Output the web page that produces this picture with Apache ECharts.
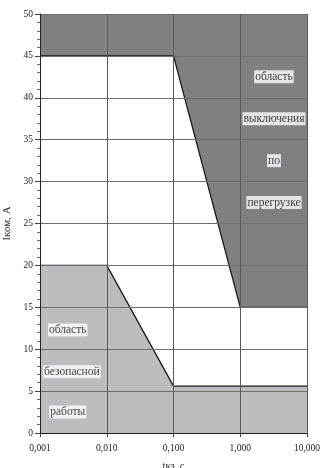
<!DOCTYPE html>
<html>
<head>
<meta charset="utf-8">
<script src="https://cdn.jsdelivr.net/npm/echarts@6/dist/echarts.min.js"></script>
<style>html,body{margin:0;padding:0;background:#fff}#c{width:320px;height:468px}</style>
</head>
<body>
<div id="c"></div>
<script>
// Boundary of the overload trip region (filled up to top of axis)
var tripX = [0.001, 0.1, 1, 10];
var tripY = [45, 45, 15, 15];
// Boundary of the safe operation region (filled down to zero)
var safeX = [0.001, 0.01, 0.1, 10];
var safeY = [20, 20, 5.6, 5.6];
// Tick labels
var xTickValues = [0.001, 0.01, 0.1, 1, 10];
var xTickLabels = ['0,001', '0,010', '0,100', '1,000', '10,000'];
// Region annotations
var tripText = ['область', 'выключения', 'по', 'перегрузке'];
var tripTextX = [3.2, 3.2, 3.2, 3.2];
var tripTextY = [42.5, 37.5, 32.5, 27.5];
var safeText = ['область', 'безопасной', 'работы'];
var safeTextX = [0.0026, 0.003, 0.0026];
var safeTextY = [12.3, 7.3, 2.5];

function pairs(xs, ys) { return xs.map(function (x, i) { return [x, ys[i]]; }); }
function textPts(xs, ys, ts) { return xs.map(function (x, i) { return { value: [x, ys[i]], name: ts[i] }; }); }

var FONT = '"Liberation Serif", "DejaVu Serif", serif';
var chart = echarts.init(document.getElementById('c'), null, { renderer: 'canvas' });
chart.setOption({
  animation: false,
  backgroundColor: '#ffffff',
  textStyle: { fontFamily: FONT },
  grid: { left: 40, right: 13, top: 14, bottom: 35, containLabel: false, outerBoundsMode: 'none' },
  xAxis: {
    type: 'log', logBase: 10, min: 0.001, max: 10, z: 5,
    name: 'tкз, с', nameLocation: 'middle', nameGap: 28,
    nameTextStyle: { fontFamily: FONT, fontSize: 10.5, color: '#333' },
    axisLine: { show: true, lineStyle: { color: '#222', width: 1 } },
    axisTick: { show: true, length: 4, inside: false, lineStyle: { color: '#444' } },
    axisLabel: {
      fontFamily: FONT, fontSize: 9.5, color: '#222', margin: 10,
      formatter: function (v) {
        for (var i = 0; i < xTickValues.length; i++) {
          if (Math.abs(Math.log10(v) - Math.log10(xTickValues[i])) < 1e-6) return xTickLabels[i];
        }
        return '';
      }
    },
    splitLine: { show: true, lineStyle: { color: '#5a5a5a', width: 1 } },
    minorTick: { show: false }
  },
  yAxis: {
    type: 'value', min: 0, max: 50, interval: 5, z: 5,
    name: 'Iком, А', nameLocation: 'middle', nameGap: 24, nameRotate: 90,
    nameTextStyle: { fontFamily: FONT, fontSize: 11, color: '#333' },
    axisLine: { show: true, lineStyle: { color: '#222', width: 1 } },
    axisTick: { show: true, length: 5, inside: false, lineStyle: { color: '#444' } },
    minorTick: { show: true, splitNumber: 5, length: 3, lineStyle: { color: '#666' } },
    axisLabel: { fontFamily: FONT, fontSize: 9.5, color: '#222', margin: 7 },
    splitLine: { show: true, lineStyle: { color: '#6e6e6e', width: 1 } }
  },
  series: [
    {
      type: 'line', data: pairs(tripX, tripY), symbol: 'none', z: 2,
      lineStyle: { color: '#1a1a1a', width: 1.3 },
      areaStyle: { origin: 'end', color: '#7f7f84', opacity: 1 }
    },
    {
      type: 'line', data: pairs(safeX, safeY), symbol: 'none', z: 2,
      lineStyle: { color: '#1a1a1a', width: 1.3 },
      areaStyle: { origin: 'start', color: '#bcbcc0', opacity: 1 }
    },
    {
      type: 'scatter', symbolSize: 0, z: 10,
      data: textPts(tripTextX, tripTextY, tripText).concat(textPts(safeTextX, safeTextY, safeText)),
      label: {
        show: true, position: 'inside', formatter: '{b}',
        fontFamily: FONT, fontSize: 11.5, color: '#111',
        backgroundColor: '#ffffff', padding: [1, 1, 0, 1]
      },
      emphasis: { disabled: true }
    }
  ]
});
</script>
</body>
</html>
